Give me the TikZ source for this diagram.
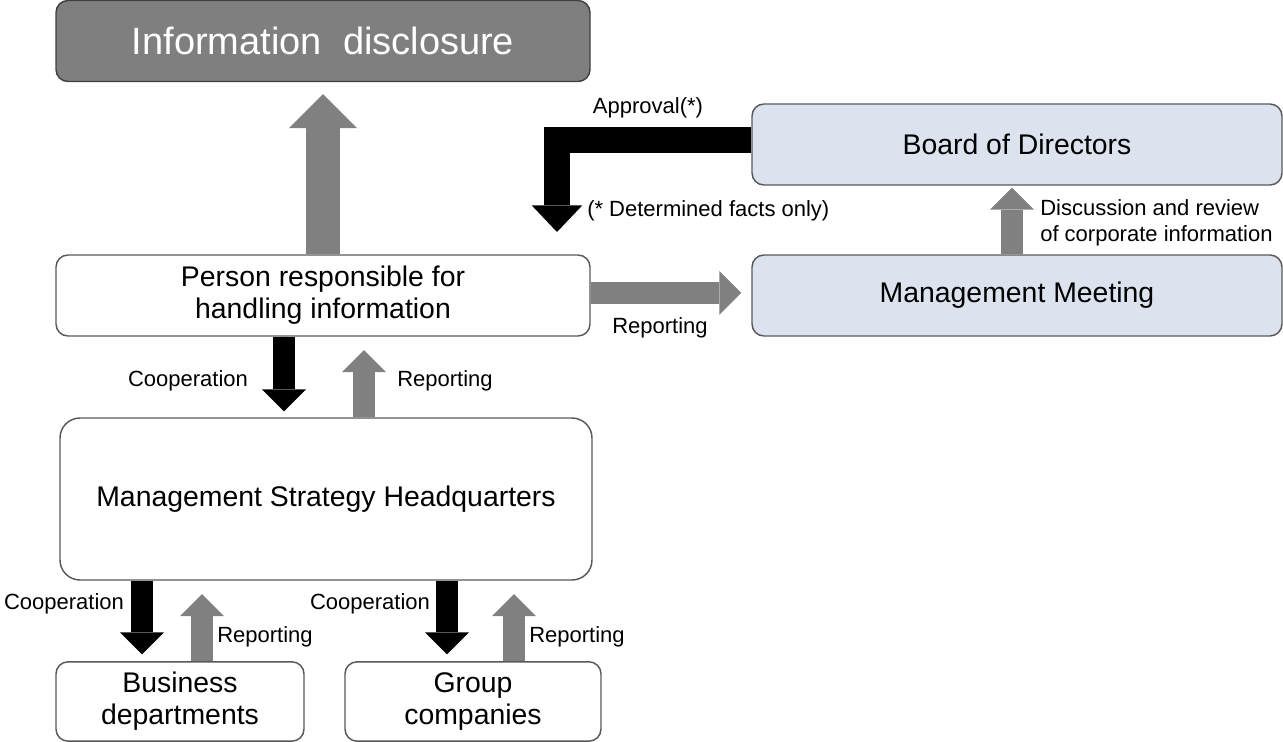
\documentclass[tikz,border=0pt]{standalone}
\usepackage{fontspec}
\setmainfont{Liberation Sans}
\usetikzlibrary{arrows.meta,calc}

\definecolor{boxline}{RGB}{89,89,89}
\definecolor{darkbox}{RGB}{127,127,127}
\definecolor{paleblue}{RGB}{220,227,239}
\definecolor{arrgray}{RGB}{128,128,128}

\begin{document}
\begin{tikzpicture}[x=0.75pt, y=-0.75pt,
	box/.style={draw=boxline, line width=1.1pt, rounded corners=9pt, fill=white, align=center, inner sep=0pt,
		font=\fontsize{21.3}{24}\selectfont},
	bluebox/.style={box, fill=paleblue},
	lbl/.style={inner sep=0pt, align=left, font=\fontsize{16.5}{19.5}\selectfont},
	grayup/.style={draw=arrgray, line width=16.5pt, -{Triangle[length=16.5pt, width=33pt, line width=0pt]}},
	blackdown/.style={grayup, draw=black},
	bigup/.style={draw=arrgray, line width=26pt, -{Triangle[length=25.5pt, width=51pt, line width=0pt]}},
	approve/.style={draw=black, line width=19.5pt, -{Triangle[length=20pt, width=38pt, line width=0pt]}}]
	\useasboundingbox (0,0) rectangle (1283,742);

	% boxes
	\node [box, fill=darkbox, draw=black!75, text=white, minimum width=400.5pt, minimum height=60.75pt,
		font=\fontsize{28.5}{32}\selectfont] (info) at (323,41) {Information~ disclosure};
	\node [box, minimum width=400.5pt, minimum height=60.75pt] (person) at (323,295.5)
		{Person responsible for \\ handling information};
	\node [box, rounded corners=15pt, minimum width=399pt, minimum height=121.5pt] (msh) at (326,499)
		{Management Strategy Headquarters};
	\node [box, minimum width=186pt, minimum height=59.5pt] (business) at (180,701.5)
		{Business \\ departments};
	\node [box, minimum width=192pt, minimum height=59.5pt] (group) at (473,701.5)
		{Group \\ companies};
	\node [bluebox, minimum width=397.5pt, minimum height=60.75pt] (board) at (1017,144.5)
		{Board of Directors};
	\node [bluebox, minimum width=397.5pt, minimum height=60.75pt] (meeting) at (1017,295.5)
		{Management Meeting};

	% arrows
	\draw [bigup, shorten >=9pt] (person.north) -- (info.south);
	\coordinate (apptip) at (557,232);
	\draw [approve] ([yshift=3pt]board.west) -| (apptip);
	\draw [grayup, shorten >=7.5pt] ([yshift=2pt]person.east) -- ([yshift=2pt]meeting.west);
	\draw [grayup, shorten >=1.5pt] ($(meeting.north)+(-5,0)$) coordinate (d1) -- (d1 |- board.south);
	\draw [blackdown, shorten >=4.5pt] ($(person.south)+(-39,0)$) coordinate (c1) -- (c1 |- msh.north);
	\draw [grayup, shorten >=10pt] ($(msh.north)+(38,0)$) coordinate (r1) -- (r1 |- person.south);
	\draw [blackdown, shorten >=5pt] ($(msh.south)+(-184,0)$) coordinate (c2) -- (c2 |- business.north);
	\draw [grayup, shorten >=10pt] ($(business.north)+(22,0)$) coordinate (r2) -- (r2 |- msh.south);
	\draw [blackdown, shorten >=5pt] ($(msh.south)+(121,0)$) coordinate (c3) -- (c3 |- group.north);
	\draw [grayup, shorten >=10pt] ($(group.north)+(41,0)$) coordinate (r3) -- (r3 |- msh.south);

	% labels
	\node [lbl] (lapprove) at (648,108) {Approval(*)};
	\node [lbl, anchor=west] (lfacts) at (587,211) {(* Determined facts only)};
	\node [lbl] (lrep0) at (660,328) {Reporting};
	\node [lbl, anchor=west] (ldisc) at (1040,223) {Discussion and review \\ of corporate information};
	\node [lbl] (lcoop1) at (188,381) {Cooperation};
	\node [lbl] (lrep1) at (445,381) {Reporting};
	\node [lbl] (lcoop2) at (64,604) {Cooperation};
	\node [lbl] (lrep2) at (265,637) {Reporting};
	\node [lbl] (lcoop3) at (370,604) {Cooperation};
	\node [lbl] (lrep3) at (577,637) {Reporting};
\end{tikzpicture}
\end{document}
